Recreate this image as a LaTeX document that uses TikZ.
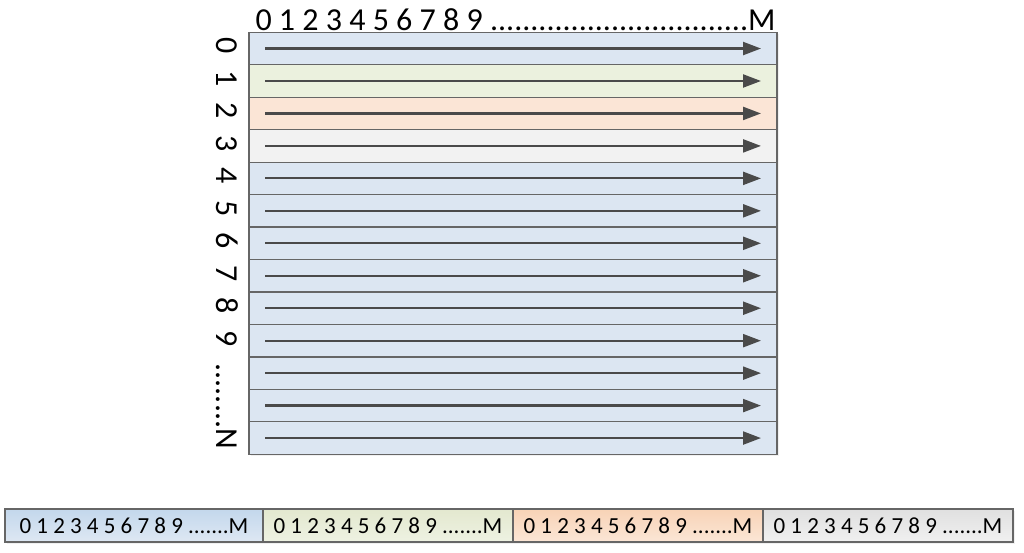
\documentclass[tikz,border=0pt]{standalone}
\usepackage{fontspec}
\setmainfont{Carlito}
\usetikzlibrary{arrows.meta}
\usetikzlibrary{positioning}
\usetikzlibrary{shadows}

\definecolor{rowblue}{HTML}{DCE6F2}
\definecolor{rowgreen}{HTML}{EBF1DE}
\definecolor{roworange}{HTML}{FBE5D6}
\definecolor{rowgray}{HTML}{F2F2F2}
\definecolor{segbluetop}{HTML}{C3D7EC}
\definecolor{segbluebot}{HTML}{DEE8F3}
\definecolor{seggreentop}{HTML}{E3E8CF}
\definecolor{seggreenbot}{HTML}{EEF2E2}
\definecolor{segorangetop}{HTML}{F8D3B6}
\definecolor{segorangebot}{HTML}{FBE6D6}
\definecolor{seggraytop}{HTML}{E0E0E0}
\definecolor{seggraybot}{HTML}{F0F0F0}
\definecolor{edgegray}{HTML}{666666}
\definecolor{arrowgray}{HTML}{4A4A4A}

\begin{document}
\begin{tikzpicture}[x=1pt, y=-1pt,
  every node/.style={inner sep=0pt, outer sep=0pt},
  rowbox/.style={draw=edgegray, line width=1.2pt, minimum width=528pt, minimum height=32.46pt,
    drop shadow={opacity=0.12, shadow xshift=2pt, shadow yshift=-2pt}},
  segbox/.style={draw=edgegray, line width=1.2pt, minimum height=33pt,
    drop shadow={opacity=0.12, shadow xshift=2pt, shadow yshift=-2pt}},
  flow/.style={draw=arrowgray, line width=2.2pt, -{Triangle[length=18pt, width=13pt]}},
  idx/.style={font=\fontsize{32}{32}\selectfont},
  segidx/.style={font=\fontsize{23}{23}\selectfont}]

\useasboundingbox (0,0) rectangle (1024,552);

% rows of the matrix
\node[rowbox, fill=rowblue, anchor=north west] (row0) at (249,32.3) {};
\node[rowbox, fill=rowgreen, below=0pt of row0] (row1) {};
\node[rowbox, fill=roworange, below=0pt of row1] (row2) {};
\node[rowbox, fill=rowgray, below=0pt of row2] (row3) {};
\foreach \i [count=\j from 3] in {4,...,12}
  \node[rowbox, fill=rowblue, below=0pt of row\j] (row\i) {};

\foreach \i in {0,...,12}
  \draw[flow] ([xshift=16pt]row\i.west) -- ([xshift=-16pt]row\i.east);

% column and row indices
\node[idx, anchor=base west] (colidx) at (255.5,30) {0 1 2 3 4 5 6 7 8 9 ................................M};
\foreach \i in {0,...,9}
  \node[idx, rotate=-90] (lbl\i) at ([xshift=-22pt, yshift=2.5pt]row\i.west) {\i};
\node[idx, rotate=-90, anchor=east] (lblN) at (227,449) {........N};

% flattened memory layout
\node[segbox, minimum width=258pt, top color=segbluetop, bottom color=segbluebot, anchor=north west] (seg0) at (5,509) {};
\node[segbox, minimum width=250pt, top color=seggreentop, bottom color=seggreenbot, right=0pt of seg0] (seg1) {};
\node[segbox, minimum width=250pt, top color=segorangetop, bottom color=segorangebot, right=0pt of seg1] (seg2) {};
\node[segbox, minimum width=250pt, top color=seggraytop, bottom color=seggraybot, right=0pt of seg2] (seg3) {};
\foreach \i in {0,...,3}
  \node[segidx] at (seg\i) {0 1 2 3 4 5 6 7 8 9 .......M};

\end{tikzpicture}
\end{document}
